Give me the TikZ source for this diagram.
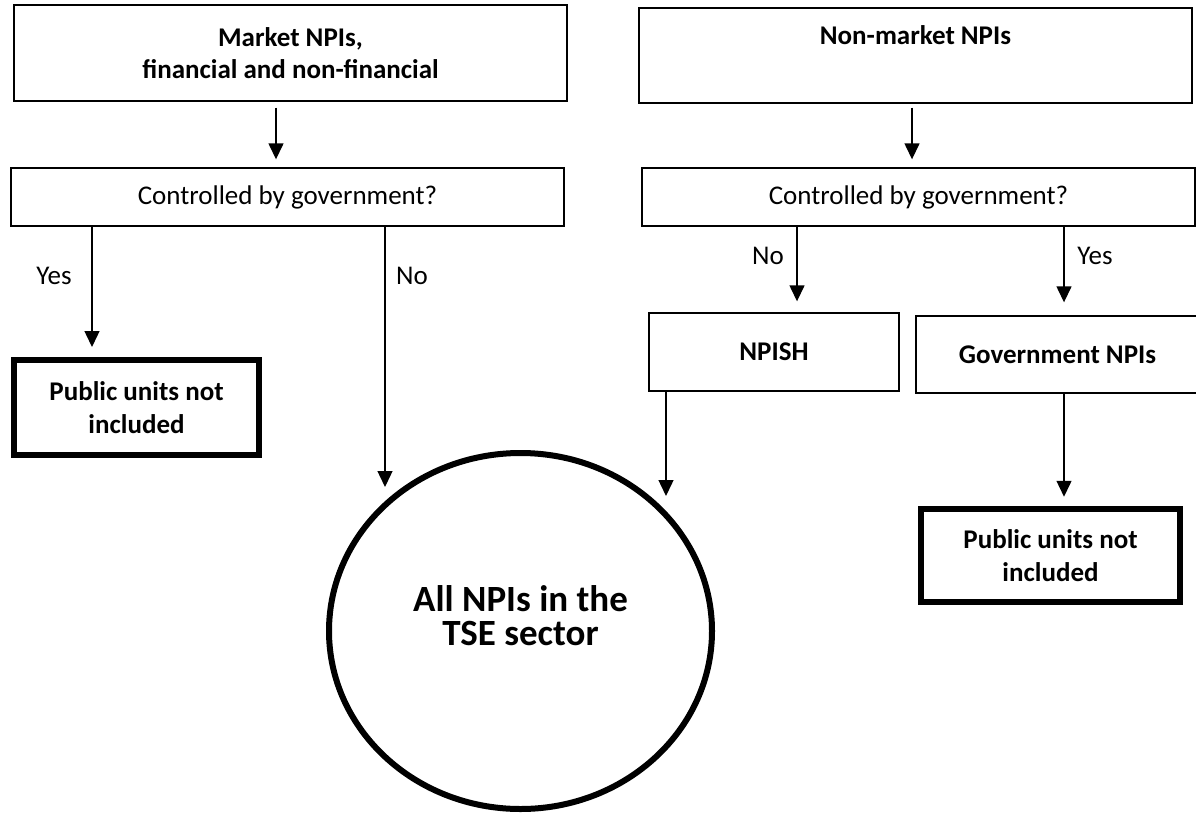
\documentclass[tikz,border=0pt]{standalone}
\usepackage{fontspec}
\setmainfont{Carlito}
\usepackage{xcolor}
\usetikzlibrary{shapes.geometric,arrows.meta}

\begin{document}
\begin{tikzpicture}[x=1pt,y=-1pt,
    txt/.style={font=\fontsize{27}{32}\selectfont, align=center, inner sep=0pt},
    box/.style={txt, draw=black, line width=1.4pt},
    boldbox/.style={box, font=\fontsize{27}{32}\selectfont\bfseries},
    endbox/.style={txt, font=\fontsize{27}{33}\selectfont\bfseries, draw=black, line width=6.5pt},
    arr/.style={-{Triangle[width=15pt,length=16pt]}, line width=1.4pt}]
                \useasboundingbox (0,0) rectangle (1196,814);

                %% Market side
                \node[boldbox, minimum width=553, minimum height=96] (mkt) at (290.5,53) {Market NPIs,\\financial and non-financial};
                \node[box, minimum width=553, minimum height=58] (ctrlL) at (287.5,197) {Controlled by government?};
                \draw[arr, shorten <=6pt, shorten >=8pt] (mkt.south -| 276,0) -- (ctrlL.north -| 276,0);

                %Yes
                \node[endbox, minimum width=245, minimum height=95] (pubL) at (136.5,407.5) {Public units not\\included};
                \coordinate (yesL) at (92,347);
                \draw[arr] (ctrlL.south -| yesL) -- (yesL);
                \node[txt] (yesLtxt) at (54,276) {Yes};

                %No
                \coordinate (noL) at (385,487);
                \draw[arr] (ctrlL.south -| noL) -- (noL);
                \node[txt] (noLtxt) at (412,276) {No};

                %% Non-market side
                \node[boldbox, minimum width=553, minimum height=95] (nonmkt) at (915.5,55.5) {Non-market NPIs\\\strut};
                \node[box, minimum width=553, minimum height=58] (ctrlR) at (918.5,197) {Controlled by government?};
                \draw[arr, shorten <=4pt, shorten >=8pt] (nonmkt.south -| 912,0) -- (ctrlR.north -| 912,0);

                %No
                \node[boldbox, minimum width=250, minimum height=78] (npish) at (774,352) {NPISH};
                \draw[arr, shorten >=11pt] (ctrlR.south -| 797,0) -- (npish.north -| 797,0);
                \node[txt] (noRtxt) at (768,256) {No};

                %Yes
                \node[boldbox, minimum width=283, minimum height=77] (gov) at (1057.5,354.5) {Government NPIs};
                \draw[arr, shorten >=13pt] (ctrlR.south -| 1064,0) -- (gov.north -| 1064,0);
                \node[txt] (yesRtxt) at (1095,256) {Yes};

                \node[endbox, minimum width=259, minimum height=93] (pubR) at (1050.5,555.5) {Public units not\\included};
                \draw[arr, shorten >=9pt] (gov.south -| 1064,0) -- (pubR.north -| 1064,0);

                %% TSE
                \node[ellipse, draw=black, line width=6pt, minimum width=383, minimum height=356, inner sep=0pt] (tse) at (520.5,631) {};
                \node[txt, font=\fontsize{37}{34}\selectfont\bfseries] (tsetxt) at ([yshift=15pt]tse.center) {All NPIs in the\\TSE sector};
                \coordinate (npishin) at (666,496);
                \draw[arr] (npish.south -| npishin) -- (npishin);

            \end{tikzpicture}
\end{document}
